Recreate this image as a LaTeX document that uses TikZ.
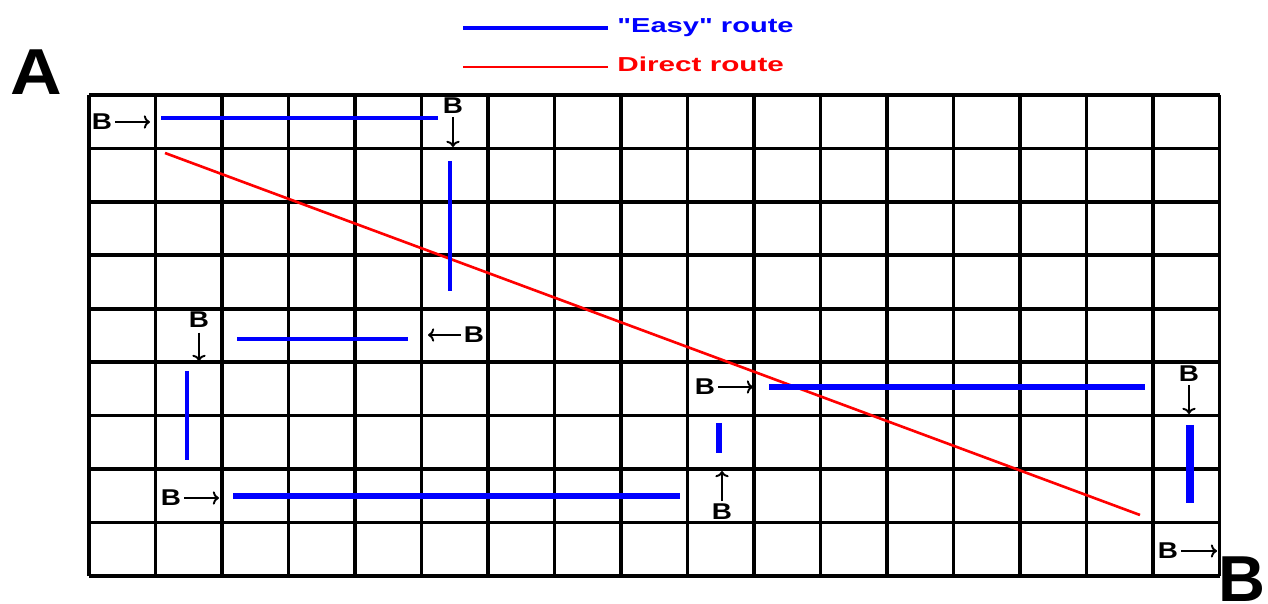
\documentclass[tikz,border=0pt]{standalone}
\usepackage{fontspec}
\setmainfont{Liberation Sans}
\usepackage{graphicx}
\usepackage{tikz}
\usetikzlibrary{arrows.meta}
\definecolor{routeblue}{HTML}{0000FF}
\definecolor{routered}{HTML}{FF0000}
\newcommand{\wideB}{\scalebox{1.22}[1]{B}}

\begin{document}
\begin{tikzpicture}[x=0.02cm,y=-0.02cm,
    gridline/.style={draw=black,line width=2.1pt},
    easy/.style={draw=routeblue,line width=#1},
    easy/.default=2pt,
    direct/.style={draw=routered,line width=1.5pt},
    blabel/.style={font=\fontsize{13}{13}\selectfont\bfseries,inner sep=0pt},
    bpoint/.style={draw=black,line width=1.1pt,shorten <=1.5pt,-{To[length=3.5pt,width=7.5pt]}},
    legendtext/.style={font=\fontsize{11.5}{12}\selectfont\bfseries,inner sep=0pt,anchor=base west},
    corner/.style={font=\fontsize{37}{37}\selectfont\bfseries,inner sep=0pt,anchor=base}]
  \useasboundingbox (0,0) rectangle (1268,604);

  % legend
  \draw[easy=2pt] (463,28) -- (608,28);
  \node[legendtext,text=routeblue] (legeasy) at (617,33) {\scalebox{1.44}[1]{\textquotedbl Easy\textquotedbl{} route}};
  \draw[direct] (463,67) -- (608,67);
  \node[legendtext,text=routered] (legdirect) at (617,72) {\scalebox{1.47}[1]{Direct route}};

  % start and end
  \node[corner] (startA) at (36,95) {\scalebox{1.1}[1]{A}};
  \node[corner] (endB) at (1242,601) {B};

  % grid
  \foreach \i in {0,...,17}
    \draw[gridline] ({89+66.5*\i},95) -- ({89+66.5*\i},576);
  \foreach \j in {0,...,9}
    \draw[gridline] (89,{95+53.44*\j}) -- (1219.5,{95+53.44*\j});

  % direct route
  \draw[direct] (165,153) -- (1140,515);

  % easy route pieces
  \draw[easy=2pt] (161,118) -- (438,118);
  \draw[easy=2pt] (450,161) -- (450,291);
  \draw[easy=2.5pt] (237,339) -- (408,339);
  \draw[easy=2.1pt] (187,371) -- (187,460);
  \draw[easy=3pt] (233,496) -- (680,496);
  \draw[easy=3pt] (769,387) -- (1145,387);
  \draw[easy=3.5pt] (719,423) -- (719,453);
  \draw[easy=4.2pt] (1190,425) -- (1190,503);

  % B markers
  \node[blabel] (bone) at (102,122) {\wideB};
  \coordinate (tone) at (150,122);
  \draw[bpoint] (bone.east) -- (tone);
  \node[blabel] (btwo) at (453,106) {\wideB};
  \coordinate (ttwo) at (453,147);
  \draw[bpoint] (btwo.south) -- (ttwo);
  \node[blabel] (bthree) at (474,335) {\wideB};
  \coordinate (tthree) at (428,335);
  \draw[bpoint] (bthree.west) -- (tthree);
  \node[blabel] (bfour) at (199,320) {\wideB};
  \coordinate (tfour) at (199,361);
  \draw[bpoint,shorten <=2.5pt] (bfour.south) -- (tfour);
  \node[blabel] (bfive) at (171,498) {\wideB};
  \coordinate (tfive) at (219,498);
  \draw[bpoint] (bfive.east) -- (tfive);
  \node[blabel] (bsix) at (705,387) {\wideB};
  \coordinate (tsix) at (753,387);
  \draw[bpoint] (bsix.east) -- (tsix);
  \node[blabel] (bseven) at (722,512) {\wideB};
  \coordinate (tseven) at (722,471);
  \draw[bpoint] (bseven.north) -- (tseven);
  \node[blabel] (beight) at (1189,374) {\wideB};
  \coordinate (teight) at (1189,414);
  \draw[bpoint] (beight.south) -- (teight);
  \node[blabel] (bnine) at (1168,551) {\wideB};
  \coordinate (tnine) at (1217,551);
  \draw[bpoint] (bnine.east) -- (tnine);
\end{tikzpicture}
\end{document}
